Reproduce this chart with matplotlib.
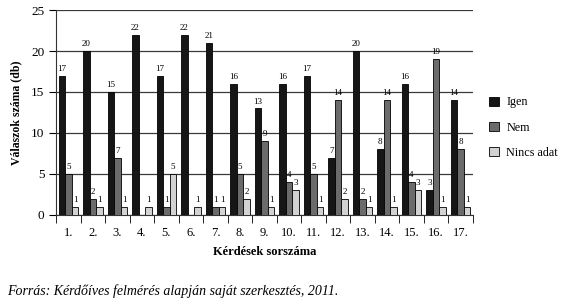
import numpy as np
import matplotlib
matplotlib.use('Agg')
import matplotlib.pyplot as plt

# Kérdések és válaszok (db)
kerdesek = [f'{i}.' for i in range(1, 18)]
igen = [17, 20, 15, 22, 17, 22, 21, 16, 13, 16, 17, 7, 20, 8, 16, 3, 14]
nem = [5, 2, 7, 0, 1, 0, 1, 5, 9, 4, 5, 14, 2, 14, 4, 19, 8]
nincs = [1, 1, 1, 1, 5, 1, 1, 2, 1, 3, 1, 2, 1, 1, 3, 1, 1]

plt.rcParams['font.family'] = ['Liberation Serif', 'DejaVu Serif']

fig = plt.figure(figsize=(5.8, 3.04), dpi=100)
ax = fig.add_axes([0.097, 0.293, 0.718, 0.674])

x = np.arange(1, 18)
w = 0.27
series = [(igen, '#161616', 'Igen', -0.27),
          (nem, '#6b6b6b', 'Nem', 0.0),
          (nincs, '#d2d2d2', 'Nincs adat', 0.27)]

for vals, col, name, off in series:
    ax.bar(x + off, vals, w, color=col, edgecolor='black', linewidth=0.6,
           label=name, zorder=3)
    for xi, v in zip(x + off, vals):
        if v > 0:
            ax.text(xi, v + 0.35, str(v), ha='center', va='bottom', fontsize=6.5, zorder=4)

ax.set_xlim(0.5, 17.5)
ax.set_ylim(0, 25)
ax.set_yticks(range(0, 26, 5))
ax.yaxis.grid(True, color='#3a3a3a', linewidth=0.9, zorder=0)
ax.set_axisbelow(True)
for s in ['top', 'right']:
    ax.spines[s].set_visible(False)
ax.spines['left'].set_color('#333333')
ax.spines['bottom'].set_color('#333333')

ax.set_xticks(x)
ax.set_xticklabels(kerdesek, fontsize=9)
ax.tick_params(axis='x', which='major', length=0, pad=9)
ax.set_xticks(np.arange(0.5, 18, 1), minor=True)
ax.tick_params(axis='x', which='minor', length=6, direction='out')
ax.tick_params(axis='y', labelsize=9.5, length=5)

ax.set_xlabel('Kérdések sorszáma', fontsize=9, fontweight='bold', labelpad=5)
ax.set_ylabel('Válaszok száma (db)', fontsize=8.5, fontweight='bold', labelpad=6)

fig.legend(loc='center left', bbox_to_anchor=(0.825, 0.58), frameon=False,
           fontsize=8.7, handlelength=0.8, handleheight=0.8, labelspacing=1.1,
           handletextpad=0.6)

fig.text(0.012, 0.028, 'Forrás: Kérdőíves felmérés alapján saját szerkesztés, 2011.',
         fontsize=10, style='italic')

fig.savefig('out.png', dpi=100)
